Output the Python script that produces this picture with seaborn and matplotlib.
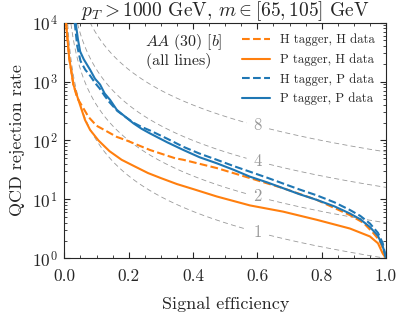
import numpy as np
import matplotlib
matplotlib.use("Agg")
import matplotlib.pyplot as plt
import seaborn as sns
from matplotlib.ticker import MultipleLocator, LogLocator, FormatStrFormatter

# ---------------------------------------------------------------
# Data (signal efficiency vs rejection)
# ---------------------------------------------------------------
eff_hh = [0.005, 0.015, 0.028, 0.04, 0.05, 0.075, 0.1, 0.127, 0.163, 0.19, 0.266,
          0.344, 0.37, 0.474, 0.577, 0.68, 0.785, 0.888, 0.93, 0.96, 0.98, 0.995, 1.0]
rej_hh = [10000, 2500, 890, 525, 427, 251, 178, 148, 115, 102, 69,
          50, 47, 34, 23, 15.5, 9.8, 5.4, 4.0, 2.7, 2.0, 1.26, 1.0]

eff_ph = [0.005, 0.015, 0.028, 0.04, 0.064, 0.08, 0.106, 0.14, 0.178, 0.22, 0.26,
          0.3, 0.35, 0.4, 0.474, 0.577, 0.68, 0.785, 0.888, 0.95, 0.975, 0.99, 1.0]
rej_ph = [10000, 2500, 890, 560, 224, 151, 100, 66, 47, 36, 28,
          23, 18.2, 15.0, 11.2, 7.9, 6.2, 4.5, 3.2, 2.35, 1.8, 1.2, 1.0]

eff_hp = [0.032, 0.04, 0.05, 0.065, 0.08, 0.095, 0.11, 0.125, 0.14, 0.165, 0.19,
          0.215, 0.24, 0.266, 0.32, 0.37, 0.42, 0.474, 0.525, 0.577, 0.63, 0.68,
          0.73, 0.785, 0.84, 0.888, 0.92, 0.95, 0.975, 0.99, 1.0]
rej_hp = [10000, 3980, 2240, 1585, 1260, 955, 760, 575, 447, 316, 251,
          200, 170, 148, 107, 78, 60, 47, 37, 29.5, 23.4, 18.6,
          14.8, 11.7, 8.9, 6.6, 5.25, 3.9, 2.7, 1.8, 1.0]

eff_pp = [0.035, 0.042, 0.049, 0.06, 0.08, 0.095, 0.111, 0.125, 0.142, 0.163, 0.19,
          0.215, 0.24, 0.266, 0.32, 0.37, 0.42, 0.474, 0.525, 0.577, 0.63, 0.68,
          0.73, 0.785, 0.84, 0.888, 0.92, 0.95, 0.975, 0.99, 1.0]
rej_pp = [10000, 5250, 3240, 2400, 1585, 1120, 890, 630, 490, 331, 251,
          195, 158, 132, 93, 69, 52, 41, 32, 24.3, 19.5, 15.5,
          12.3, 9.8, 7.6, 5.75, 4.6, 3.4, 2.4, 1.6, 1.0]

# significance-improvement guide levels (eps_S / sqrt(eps_B))
si_levels = [1, 2, 4, 8]
si_label_x = 0.6

orange = "#ff7f0e"
blue = "#1f77b4"

sns.set_style("ticks")
plt.rcParams["font.family"] = ["cmr10", "DejaVu Serif"]
plt.rcParams["mathtext.fontset"] = "cm"
plt.rcParams["axes.formatter.use_mathtext"] = True
plt.rcParams["axes.unicode_minus"] = False

fig = plt.figure(figsize=(4.0, 3.16), dpi=100)
ax = fig.add_axes([0.161, 0.1826, 0.804, 0.7456])

# gray dashed guide curves with a gap where the label sits
xs = np.linspace(0.001, 1.0, 600)
for k in si_levels:
    ys = (k / xs) ** 2
    ys = np.where(np.abs(xs - (si_label_x + 0.002)) < 0.034, np.nan, ys)
    ax.plot(xs, ys, color="0.6", lw=0.6, ls=(0, (6, 4)), zorder=1)
    ax.text(si_label_x, (k / si_label_x) ** 2, str(k), color="0.6",
            fontsize=12, ha="center", va="center", zorder=2)

sns.lineplot(x=eff_hh, y=rej_hh, ax=ax, color=orange, lw=1.5, linestyle="--",
             label="H tagger, H data", zorder=3)
sns.lineplot(x=eff_ph, y=rej_ph, ax=ax, color=orange, lw=1.5,
             label="P tagger, H data", zorder=3)
sns.lineplot(x=eff_hp, y=rej_hp, ax=ax, color=blue, lw=1.5, linestyle="--",
             label="H tagger, P data", zorder=3)
sns.lineplot(x=eff_pp, y=rej_pp, ax=ax, color=blue, lw=1.5,
             label="P tagger, P data", zorder=3)

ax.set_yscale("log")
ax.set_xlim(0, 1)
ax.set_ylim(1, 1e4)
ax.xaxis.set_major_locator(MultipleLocator(0.2))
ax.xaxis.set_minor_locator(MultipleLocator(0.05))
ax.xaxis.set_major_formatter(FormatStrFormatter("%.1f"))
ax.yaxis.set_major_locator(LogLocator(base=10, numticks=10))
ax.yaxis.set_minor_locator(LogLocator(base=10, subs=np.arange(2, 10), numticks=10))
ax.tick_params(which="both", direction="in", top=True, right=True, labelsize=12.5)
ax.tick_params(which="major", length=4, width=0.8)
ax.tick_params(which="minor", length=2, width=0.6)
ax.tick_params(axis="x", which="major", pad=7.5)
ax.tick_params(axis="y", which="major", pad=5)
for s in ax.spines.values():
    s.set_linewidth(0.8)

ax.set_xlabel("Signal efficiency", fontsize=13, labelpad=9)
ax.set_ylabel("QCD rejection rate", fontsize=13, labelpad=5)
ax.set_title(r"$p_T > 1000$ GeV, $m \in [65, 105]$ GeV", fontsize=14, pad=4)

ax.text(0.37, 0.918, r"$AA\ (30)\ [b]$", transform=ax.transAxes,
        fontsize=11.5, ha="center", va="center")
ax.text(0.355, 0.837, "(all lines)", transform=ax.transAxes,
        fontsize=11.5, ha="center", va="center")

ax.legend(loc="upper right", frameon=False, fontsize=9.2, handlelength=2.15,
          handletextpad=0.8, borderaxespad=0.5, borderpad=0.37, labelspacing=0.55)

fig.savefig("out.png", dpi=100)
